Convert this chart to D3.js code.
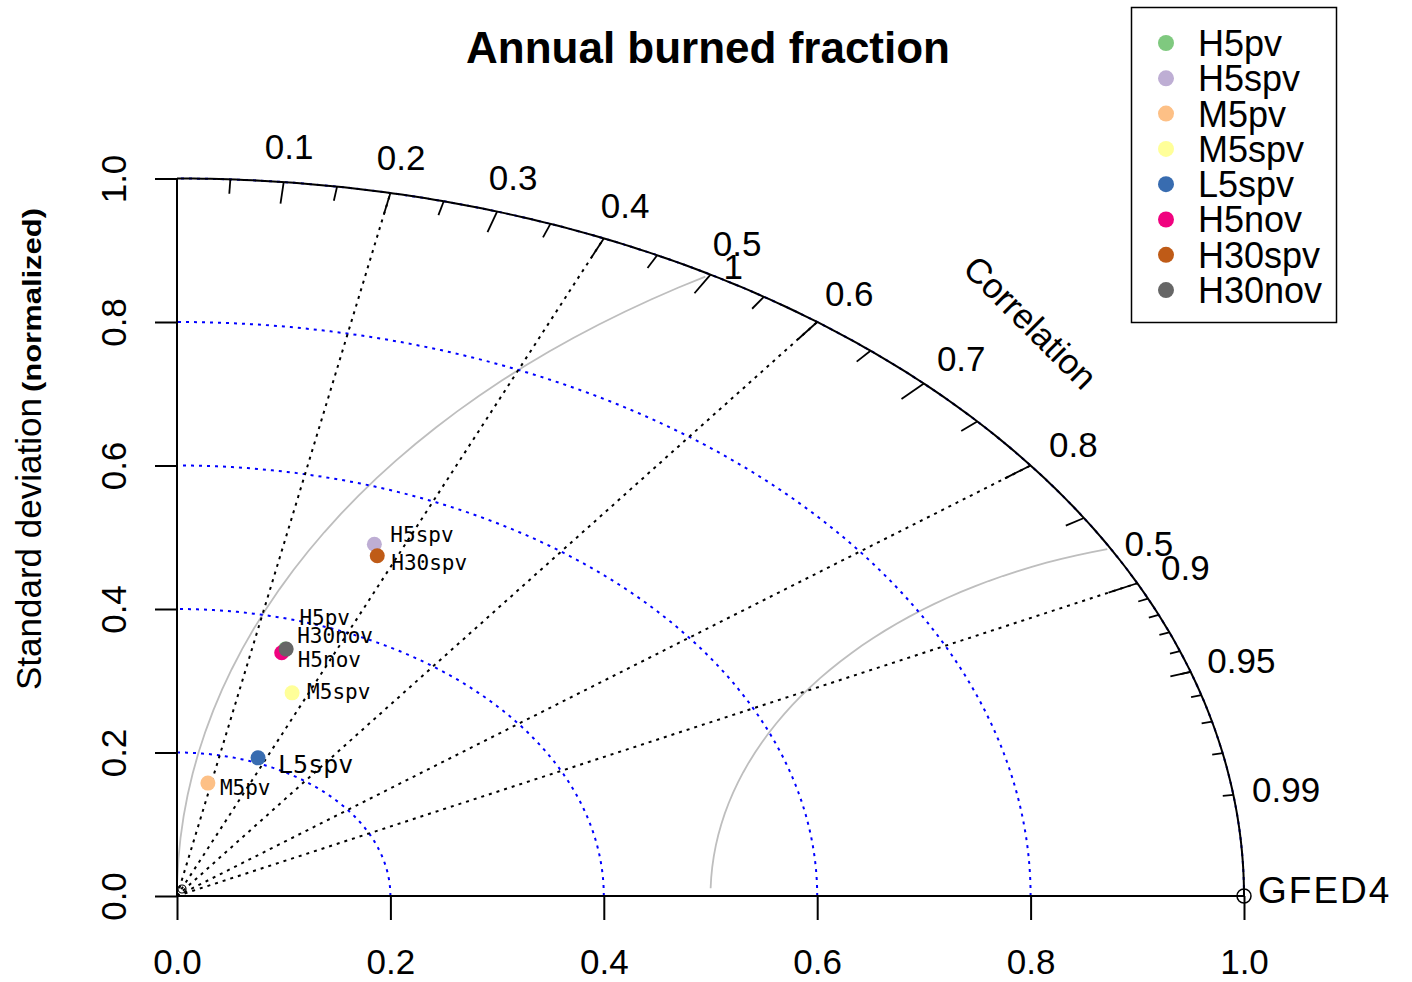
<!DOCTYPE html>
<html>
<head>
<meta charset="utf-8">
<script src="https://cdn.jsdelivr.net/npm/d3@7"></script>
<style>
  body { margin: 0; background: #fff; }
  svg { display: block; }
</style>
</head>
<body>
<svg id="chart" width="1412" height="982"></svg>
<script>
// Taylor diagram -- annual burned fraction vs GFED4

// --- Data ---
var models = ["H5pv", "H5spv", "M5pv", "M5spv", "L5spv", "H5nov", "H30spv", "H30nov"];
var sdValues = [0.359, 0.524, 0.160, 0.303, 0.207, 0.353, 0.510, 0.359];
var corValues = [0.283, 0.353, 0.181, 0.356, 0.367, 0.278, 0.368, 0.285];
var modelColors = ["#7FC97F", "#BEAED4", "#FDC086", "#FFFF99", "#386CB0", "#F0027F", "#BF5B17", "#666666"];

var refName = "GFED4";
var refSd = 1.0;
var maxSd = 1.0;

var axisTicks = [0, 0.2, 0.4, 0.6, 0.8, 1.0];
var corLabels = [0.1, 0.2, 0.3, 0.4, 0.5, 0.6, 0.7, 0.8, 0.9, 0.95, 0.99];
var corGridLines = [0.2, 0.4, 0.6, 0.8, 0.9];
var sdArcs = [0.2, 0.4, 0.6, 0.8, 1.0];
var rmsLevels = [0.5, 1];

// --- Layout (pixels / angles, not data) ---
var labelNudge = {
  H5pv: [14, -24], H5spv: [16, -2], M5pv: [12, 12], M5spv: [15, 6],
  L5spv: [20, 15], H5nov: [16, 14], H30spv: [14, 14], H30nov: [11, -6]
};
var rmsLabelAngle = [1.75, 2.07];
var FONT = "'Liberation Sans', Arial, sans-serif";

var svg = d3.select("#chart");

var x = d3.scaleLinear().domain([0, 1.1]).range([177, 177 + 1.1 * 1067]);
var y = d3.scaleLinear().domain([0, 1.1]).range([896, 896 - 1.1 * 717.5]);

var line = d3.line()
  .x(function (d) { return x(d[0]); })
  .y(function (d) { return y(d[1]); });

function arcPoints(r) {
  return d3.range(0, 1.0001, 0.005).map(function (f) {
    var a = f * Math.PI / 2;
    return [r * Math.cos(a), r * Math.sin(a)];
  });
}

// --- Title ---
svg.append("text")
  .attr("x", 708).attr("y", 63)
  .attr("text-anchor", "middle")
  .attr("font-family", FONT).attr("font-size", 44).attr("font-weight", "bold")
  .text("Annual burned fraction");

// --- Centered RMS curves (grey) ---
rmsLevels.forEach(function (g, i) {
  var pts = d3.range(0, Math.PI, 0.03).map(function (t) {
    return [refSd + g * Math.cos(t), g * Math.sin(t)];
  }).filter(function (p) {
    return p[0] >= 0 && p[0] * p[0] + p[1] * p[1] <= maxSd * maxSd;
  });
  svg.append("path").attr("d", line(pts))
    .attr("fill", "none").attr("stroke", "#BEBEBE").attr("stroke-width", 1.8);
  var t = rmsLabelAngle[i];
  svg.append("text")
    .attr("x", x(refSd + g * Math.cos(t))).attr("y", y(g * Math.sin(t)))
    .attr("dy", "0.36em").attr("text-anchor", "middle")
    .attr("font-family", FONT).attr("font-size", 35)
    .text(String(g));
});

// --- SD arcs (blue dotted) ---
sdArcs.forEach(function (r) {
  svg.append("path").attr("d", line(arcPoints(r)))
    .attr("fill", "none").attr("stroke", "#0000FF")
    .attr("stroke-width", 2).attr("stroke-dasharray", "3,5");
});

// --- Correlation rays (black dotted) ---
corGridLines.forEach(function (c) {
  var s = Math.sqrt(1 - c * c);
  svg.append("path").attr("d", line([[0, 0], [maxSd * c, maxSd * s]]))
    .attr("fill", "none").attr("stroke", "#000")
    .attr("stroke-width", 2).attr("stroke-dasharray", "3,5");
});

// --- Outer arc ---
svg.append("path").attr("d", line(arcPoints(maxSd)))
  .attr("fill", "none").attr("stroke", "#000").attr("stroke-width", 2);

// --- Arc ticks ---
function arcTicks(vals, inner) {
  vals.forEach(function (c) {
    var s = Math.sqrt(1 - c * c);
    svg.append("path")
      .attr("d", line([[maxSd * c, maxSd * s], [inner * maxSd * c, inner * maxSd * s]]))
      .attr("stroke", "#000").attr("stroke-width", 1.8);
  });
}
arcTicks(d3.range(1, 10).map(function (i) { return i / 10; }), 0.97);
arcTicks(d3.range(0, 10).map(function (i) { return 0.05 + i / 10; }), 0.98);
arcTicks(d3.range(1, 10).map(function (i) { return 0.9 + i / 100; }), 0.99);

corLabels.forEach(function (c) {
  var s = Math.sqrt(1 - c * c);
  svg.append("text")
    .attr("x", x(1.05 * maxSd * c)).attr("y", y(1.05 * maxSd * s))
    .attr("dy", "0.36em").attr("text-anchor", "middle")
    .attr("font-family", FONT).attr("font-size", 35)
    .text(String(c));
});

svg.append("text")
  .attr("transform", "translate(" + x(0.8 * maxSd) + "," + y(0.8 * maxSd) + ") rotate(45)")
  .attr("dy", "0.36em").attr("text-anchor", "middle")
  .attr("font-family", FONT).attr("font-size", 35)
  .text("Correlation");

// --- Axes ---
var fmt = d3.format(".1f");
var xAxis = svg.append("g").attr("transform", "translate(0," + y(0) + ")")
  .call(d3.axisBottom(x).tickValues(axisTicks).tickSize(24).tickSizeOuter(0).tickFormat(fmt));
xAxis.select(".domain").attr("d", "M" + x(0) + ",0H" + x(maxSd));
var yAxis = svg.append("g").attr("transform", "translate(" + x(0) + ",0)")
  .call(d3.axisLeft(y).tickValues(axisTicks).tickSize(22).tickSizeOuter(0).tickFormat(fmt));
yAxis.select(".domain").attr("d", "M0," + y(0) + "V" + y(maxSd));

[xAxis, yAxis].forEach(function (g) {
  g.selectAll(".domain, .tick line").attr("stroke", "#000").attr("stroke-width", 2);
  g.selectAll("text").attr("font-family", FONT).attr("font-size", 35).attr("fill", "#000");
});
xAxis.selectAll(".tick text").attr("y", 78).attr("dy", null);
yAxis.selectAll(".tick text")
  .attr("x", null).attr("dy", null)
  .attr("text-anchor", "middle")
  .attr("transform", "translate(-51,0) rotate(-90)");

// y axis title
svg.append("text")
  .attr("transform", "translate(41,690) rotate(-90)")
  .attr("font-family", FONT).attr("font-size", 35)
  .text("Standard deviation");
svg.append("text")
  .attr("transform", "translate(41,392) rotate(-90)")
  .attr("font-family", FONT).attr("font-size", 25).attr("font-weight", "bold")
  .attr("textLength", 184).attr("lengthAdjust", "spacingAndGlyphs")
  .text("(normalized)");

// --- Reference point ---
svg.append("circle")
  .attr("cx", x(refSd)).attr("cy", y(0)).attr("r", 7)
  .attr("fill", "none").attr("stroke", "#000").attr("stroke-width", 1.5);
svg.append("text")
  .attr("x", x(refSd) + 14).attr("y", y(0) - 6).attr("dy", "0.36em")
  .attr("font-family", FONT).attr("font-size", 37).attr("letter-spacing", 2)
  .text(refName);
svg.append("circle")
  .attr("cx", x(0) + 5).attr("cy", y(0) - 7).attr("r", 4)
  .attr("fill", "none").attr("stroke", "#000").attr("stroke-width", 1.2);

// --- Model points ---
var pts = models.map(function (m, i) {
  return {
    name: m,
    color: modelColors[i],
    px: sdValues[i] * corValues[i],
    py: sdValues[i] * Math.sqrt(1 - corValues[i] * corValues[i])
  };
});

svg.append("g").selectAll("circle").data(pts).join("circle")
  .attr("cx", function (d) { return x(d.px); })
  .attr("cy", function (d) { return y(d.py); })
  .attr("r", 7.5)
  .attr("fill", function (d) { return d.color; });

svg.append("g").selectAll("text").data(pts).join("text")
  .attr("x", function (d) { return x(d.px) + labelNudge[d.name][0]; })
  .attr("y", function (d) { return y(d.py) + labelNudge[d.name][1]; })
  .attr("font-family", "'DejaVu Sans Mono', monospace")
  .attr("font-size", function (d) { return d.name === "L5spv" ? 25 : 21; })
  .text(function (d) { return d.name; });

// --- Legend ---
var legend = svg.append("g");
legend.append("rect")
  .attr("x", 1131.5).attr("y", 7.5).attr("width", 205).attr("height", 315)
  .attr("fill", "#fff").attr("stroke", "#000").attr("stroke-width", 1.5);
var rows = legend.selectAll("g.row").data(pts).join("g")
  .attr("class", "row")
  .attr("transform", function (d, i) { return "translate(0," + (43 + i * 35.3) + ")"; });
rows.append("circle").attr("cx", 1166).attr("cy", 0).attr("r", 8)
  .attr("fill", function (d) { return d.color; });
rows.append("text").attr("x", 1198).attr("dy", "0.36em")
  .attr("font-family", FONT).attr("font-size", 36)
  .text(function (d) { return d.name; });
</script>
</body>
</html>
